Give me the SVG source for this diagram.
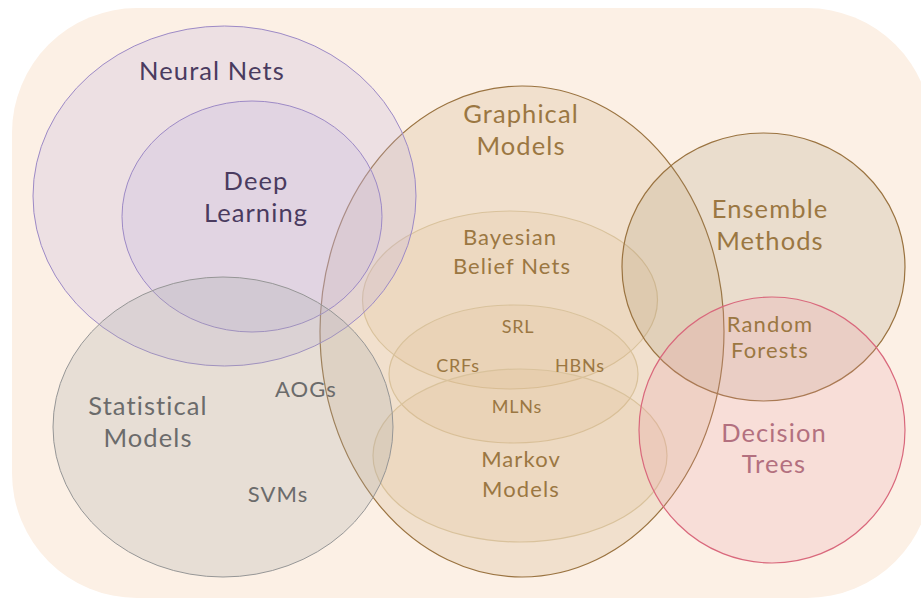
<svg xmlns="http://www.w3.org/2000/svg" width="921" height="598" viewBox="0 0 921 598">
<style>
text{font-family:Lato,"Noto Sans","Liberation Sans",sans-serif;text-anchor:middle;font-weight:400}
.big{font-size:25.5px;letter-spacing:1.1px}
.mid{font-size:22px;letter-spacing:1.1px}
.sm{font-size:18px;letter-spacing:0.8px}
.tan{fill:#9B7742}
.pur{fill:#4A3B5F}
.gray{fill:#6B6B6B}
.pink{fill:#B3707F}
.bg{fill:#FCF0E5}
.graph{fill:#C8A06E;fill-opacity:0.2;stroke:#9A7340;stroke-width:1.2}
.sub{fill:#DCB482;fill-opacity:0.16;stroke:#D9C29C;stroke-width:1.2}
.ens{fill:#A08C64;fill-opacity:0.19;stroke:#9A7340;stroke-width:1.2}
.dt{fill:#EB94A4;fill-opacity:0.2;stroke:#D9687C;stroke-width:1.2}
.nn{fill:#C0B0E1;fill-opacity:0.25;stroke:#9D8AC6;stroke-width:1}
.stat{fill:#AAAAAA;fill-opacity:0.26;stroke:#969696;stroke-width:1}
</style>
<rect class="bg" x="12" y="8" width="920" height="590" rx="125" ry="125"/>
<g id="graphical-models">
<ellipse class="graph" cx="522" cy="331.5" rx="202" ry="245.5"/>
</g>
<g id="bayesian-belief-nets">
<ellipse class="sub" cx="510" cy="300" rx="147.5" ry="89"/>
</g>
<g id="srl">
<ellipse class="sub" cx="513.5" cy="374" rx="124.5" ry="69"/>
</g>
<g id="markov-models">
<ellipse class="sub" cx="520" cy="455.5" rx="147" ry="86.5"/>
</g>
<g id="ensemble-methods">
<ellipse class="ens" cx="763.5" cy="267" rx="141.5" ry="134"/>
</g>
<g id="decision-trees">
<ellipse class="dt" cx="772" cy="430" rx="133" ry="133"/>
</g>
<g id="neural-nets">
<ellipse class="nn" cx="224.5" cy="196" rx="191.5" ry="170"/>
</g>
<g id="deep-learning">
<ellipse class="nn" cx="252" cy="216.5" rx="130" ry="115.5"/>
</g>
<g id="statistical-models">
<ellipse class="stat" cx="223" cy="427" rx="170" ry="150"/>
</g>
<g id="connectors"></g>
<g id="labels">
<text class="big pur" x="212" y="80">Neural Nets</text>
<text class="big pur" x="256" y="190">Deep</text>
<text class="big pur" x="256" y="222">Learning</text>
<text class="big tan" x="521" y="123">Graphical</text>
<text class="big tan" x="521" y="155">Models</text>
<text class="mid tan" x="510" y="245">Bayesian</text>
<text class="mid tan" x="512" y="274">Belief Nets</text>
<text class="big tan" x="770" y="218">Ensemble</text>
<text class="big tan" x="770" y="250">Methods</text>
<text class="sm tan" x="518" y="333">SRL</text>
<text class="sm tan" x="458" y="372">CRFs</text>
<text class="sm tan" x="580" y="372">HBNs</text>
<text class="sm tan" x="517" y="413">MLNs</text>
<text class="mid tan" x="521" y="467">Markov</text>
<text class="mid tan" x="521" y="497">Models</text>
<text class="mid tan" x="770" y="332">Random</text>
<text class="mid tan" x="770" y="358">Forests</text>
<text class="big pink" x="774" y="442">Decision</text>
<text class="big pink" x="774" y="473">Trees</text>
<text class="big gray" x="148" y="415">Statistical</text>
<text class="big gray" x="148" y="447">Models</text>
<text class="mid gray" x="306" y="397">AOGs</text>
<text class="mid gray" x="278" y="502">SVMs</text>
</g>
</svg>
